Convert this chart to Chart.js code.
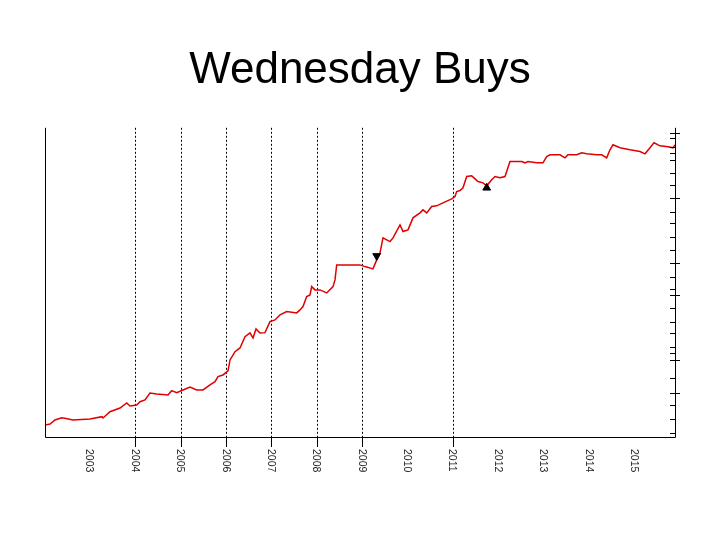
<!DOCTYPE html>
<html>
<head>
<meta charset="utf-8">
<script src="https://cdn.jsdelivr.net/npm/chart.js@4/dist/chart.umd.min.js"></script>
<style>
  html, body { margin: 0; padding: 0; background: #fff; }
  #c { display: block; }
</style>
</head>
<body>
<canvas id="c" width="720" height="540"></canvas>
<script>
// ---- Data ----
const dates = [2002.000,2002.110,2002.220,2002.368,2002.463,2002.617,2002.992,2003.256,2003.278,2003.433,
  2003.653,2003.801,2003.873,2004.021,2004.094,2004.204,2004.314,2004.462,2004.711,2004.793,
  2004.903,2005.042,2005.196,2005.344,2005.482,2005.637,2005.747,2005.813,2005.923,2006.034,
  2006.078,2006.188,2006.298,2006.408,2006.518,2006.585,2006.651,2006.739,2006.849,2006.959,
  2007.069,2007.180,2007.327,2007.548,2007.620,2007.687,2007.768,2007.841,2007.878,2007.951,
  2008.061,2008.209,2008.348,2008.392,2008.429,2008.943,2009.053,2009.229,2009.311,2009.384,
  2009.450,2009.604,2009.670,2009.825,2009.891,2010.001,2010.111,2010.265,2010.331,2010.413,
  2010.523,2010.633,2010.772,2010.964,2011.037,2011.074,2011.147,2011.213,2011.295,2011.405,
  2011.544,2011.654,2011.736,2011.846,2011.918,2012.029,2012.139,2012.249,2012.507,2012.580,
  2012.646,2012.837,2012.976,2013.058,2013.131,2013.351,2013.461,2013.527,2013.719,2013.829,
  2013.939,2014.159,2014.270,2014.380,2014.453,2014.519,2014.674,2014.894,2015.114,2015.225,
  2015.335,2015.423,2015.555,2015.731,2015.842,2015.886];
const equity = [12,13,17,19.3,18.5,17,18,20.3,19,25.3,
  29,34,31,32,35.3,37,44,43,42,46.3,
  44.3,47,50,47,47,52,55.3,60.3,62,66,
  77,85.3,89,100.3,104,99,108,104,104.3,115.3,
  117,122,125.3,124,127,130.3,140.3,142,150.3,147,
  147,144,150.3,157,172,172,170.3,168,177,184,
  199,195.3,199,212,205.3,207,219,224,227,224,
  230.3,231,234,238,240.3,245.3,246.3,249,260.3,261,
  255.3,254,251,257,260.3,259,260.3,275.3,275.3,274,
  275.3,274,274,280.3,282,282,279,282,282,284,
  283,282,282,279,287,292,289,287,285.3,283,
  289,294,291,290,289,292];
const sellDates = [2009.311];
const sellValues = [181];
const buyDates = [2011.736];
const buyValues = [249];
const yearLabels = [2003,2004,2005,2006,2007,2008,2009,2010,2011,2012,2013,2014,2015];
const markedYears = [2004,2005,2006,2007,2008,2009,2011];
const yTickValues = [4,18,32,44,59,77,84,90,104,115,129,142,148,160,174,187,200,214,225,239,252,264,277,284,290,299,304];
const majorYTicks = [304,239,174,142,77,44];

const chartTitle = 'Wednesday Buys';
const FONT = '"Liberation Sans", Arial, Helvetica, sans-serif';

const framePlugin = {
  id: 'frame',
  afterDraw(chart) {
    const {ctx, chartArea: a, scales: {x, y}} = chart;
    ctx.save();
    ctx.strokeStyle = '#000';
    ctx.lineWidth = 1;
    ctx.beginPath();
    ctx.moveTo(a.left + 0.5, a.top);
    ctx.lineTo(a.left + 0.5, a.bottom + 0.5);
    ctx.lineTo(a.right + 0.5, a.bottom + 0.5);
    ctx.moveTo(a.right + 0.5, a.top);
    ctx.lineTo(a.right + 0.5, a.bottom + 0.5);
    ctx.stroke();
    // right-axis tick marks
    ctx.beginPath();
    y.ticks.forEach(t => {
      const py = Math.round(y.getPixelForValue(t.value)) + 0.5;
      const major = majorYTicks.includes(t.value);
      ctx.moveTo(a.right - 5, py);
      ctx.lineTo(a.right + (major ? 5 : 0.5), py);
    });
    ctx.stroke();
    // rotated year labels (reading top to bottom)
    ctx.fillStyle = '#222';
    ctx.font = '10.5px ' + FONT;
    ctx.textAlign = 'left';
    ctx.textBaseline = 'middle';
    yearLabels.forEach(yr => {
      const px = x.getPixelForValue(yr);
      ctx.save();
      ctx.translate(px - 1, a.bottom + 12);
      ctx.rotate(Math.PI / 2);
      ctx.fillText(String(yr), 0, 0);
      ctx.restore();
    });
    ctx.restore();
  }
};

new Chart(document.getElementById('c'), {
  data: {
    datasets: [
      {
        type: 'line',
        data: dates.map((d, i) => ({x: d, y: equity[i]})),
        borderColor: '#e00000',
        borderWidth: 1.5,
        pointRadius: 0,
        tension: 0,
        order: 2
      },
      {
        type: 'scatter',
        data: sellDates.map((d, i) => ({x: d, y: sellValues[i]})),
        pointStyle: 'triangle',
        rotation: 180,
        radius: 4.5,
        backgroundColor: '#000',
        borderColor: '#000',
        order: 1
      },
      {
        type: 'scatter',
        data: buyDates.map((d, i) => ({x: d, y: buyValues[i]})),
        pointStyle: 'triangle',
        radius: 4.5,
        backgroundColor: '#000',
        borderColor: '#000',
        order: 1
      }
    ]
  },
  options: {
    responsive: false,
    animation: false,
    devicePixelRatio: 1,
    layout: { padding: { left: 45, right: 45, top: 0, bottom: 103 } },
    plugins: {
      legend: { display: false },
      tooltip: { enabled: false },
      title: {
        display: true,
        text: chartTitle,
        color: '#000',
        font: { family: FONT, size: 44, weight: 'normal', lineHeight: 1.2 },
        padding: { top: 44, bottom: 31 }
      }
    },
    scales: {
      x: {
        type: 'linear',
        min: 2002,
        max: 2015.886,
        afterBuildTicks: s => { s.ticks = yearLabels.map(v => ({value: v})); },
        afterFit: s => { s.height = 0; },
        ticks: { display: false },
        grid: {
          color: c => markedYears.includes(c.tick && c.tick.value) ? '#000' : 'rgba(0,0,0,0)',
          tickColor: c => markedYears.includes(c.tick && c.tick.value) ? '#000' : 'rgba(0,0,0,0)',
          lineWidth: 1,
          drawTicks: true,
          tickLength: 10,
          tickBorderDash: []
        },
        border: { display: false, dash: [2, 2] }
      },
      y: {
        type: 'linear',
        position: 'right',
        min: 0,
        max: 309,
        afterBuildTicks: s => { s.ticks = yTickValues.map(v => ({value: v})); },
        afterFit: s => { s.width = 0; },
        ticks: { display: false },
        grid: { display: false },
        border: { display: false }
      }
    }
  },
  plugins: [framePlugin]
});
</script>
</body>
</html>
